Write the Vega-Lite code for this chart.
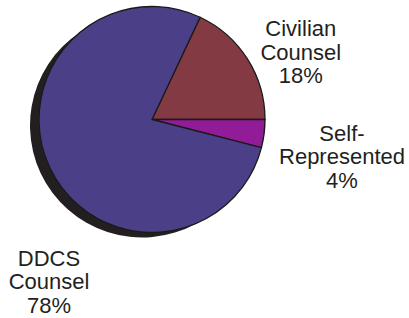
{
  "$schema": "https://vega.github.io/schema/vega-lite/v6.json",
  "autosize": "none",
  "width": 304,
  "height": 239,
  "padding": {"left": 0, "top": 0, "right": 105, "bottom": 79},
  "background": "white",
  "config": {"view": {"stroke": null}},
  "data": {
    "values": [
      {"group": "Civilian Counsel", "seq": 1, "value": 18, "label": "Civilian\nCounsel\n18%"},
      {"group": "Self-Represented", "seq": 2, "value": 4, "label": "Self-\nRepresented\n4%"},
      {"group": "DDCS Counsel", "seq": 3, "value": 78, "label": "DDCS\nCounsel\n78%"}
    ]
  },
  "encoding": {
    "theta": {"field": "value", "type": "quantitative", "stack": true, "scale": {"range": [0.4398, 6.7230]}},
    "order": {"field": "seq", "type": "quantitative"}
  },
  "layer": [
    {
      "mark": {"type": "arc", "outerRadius": 112, "x": {"expr": "width/2-10"}, "y": {"expr": "height/2+6"}, "color": "#231f20", "strokeWidth": 0}
    },
    {
      "mark": {"type": "arc", "outerRadius": 113, "stroke": "#1a1a1a", "strokeWidth": 1.3},
      "encoding": {
        "color": {
          "field": "group",
          "type": "nominal",
          "scale": {"domain": ["Civilian Counsel", "Self-Represented", "DDCS Counsel"], "range": ["#843a43", "#921c98", "#4b3f87"]},
          "legend": null
        }
      }
    },
    {
      "mark": {"type": "text", "radius": 162, "dx": 12, "dy": -3.5, "font": "Liberation Sans", "fontSize": 22, "lineHeight": 23.5, "lineBreak": "\n", "align": "center", "baseline": "middle", "color": "#231f20"},
      "encoding": {"text": {"condition": {"test": "datum.group == 'Civilian Counsel'", "field": "label"}, "value": ""}}
    },
    {
      "mark": {"type": "text", "radius": 192, "dx": -0.5, "dy": -9.8, "font": "Liberation Sans", "fontSize": 22, "lineHeight": 23.5, "lineBreak": "\n", "align": "center", "baseline": "middle", "color": "#231f20"},
      "encoding": {"text": {"condition": {"test": "datum.group == 'Self-Represented'", "field": "label"}, "value": ""}}
    },
    {
      "mark": {"type": "text", "radius": 162, "dx": 43.6, "dy": 70.3, "font": "Liberation Sans", "fontSize": 22, "lineHeight": 23.5, "lineBreak": "\n", "align": "center", "baseline": "middle", "color": "#231f20"},
      "encoding": {"text": {"condition": {"test": "datum.group == 'DDCS Counsel'", "field": "label"}, "value": ""}}
    }
  ]
}
